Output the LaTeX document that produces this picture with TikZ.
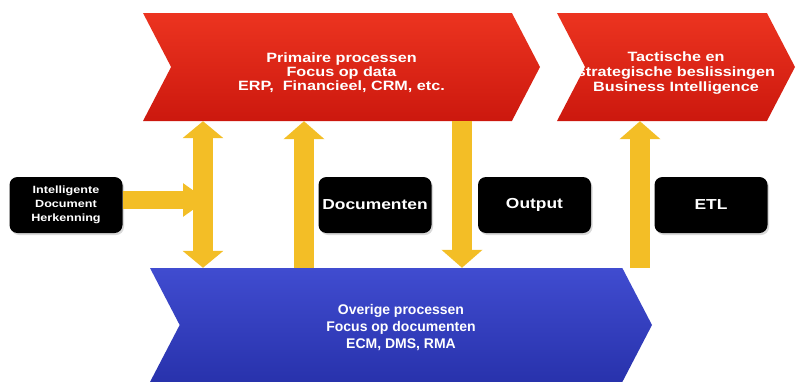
\documentclass[tikz,border=0pt]{standalone}
\usepackage{fontspec}
\usepackage{xcolor}
\usetikzlibrary{shapes.symbols,arrows.meta,shadows}
\newfontfamily\diagfont[FakeStretch=1.2]{Liberation Sans Bold}
\newfontfamily\restfont{Liberation Sans Bold}
\definecolor{redtop}{RGB}{236,52,32}
\definecolor{redbot}{RGB}{204,24,14}
\definecolor{bluetop}{RGB}{64,76,208}
\definecolor{bluebot}{RGB}{40,50,172}
\definecolor{pijl}{RGB}{243,190,38}

\begin{document}
\begin{tikzpicture}[
    x=1pt, y=-1pt,
    chevron/.style={signal, signal from=west, signal to=east,
        signal pointer angle=125, inner sep=0pt},
    chevtekst/.style={text=white, align=center, inner sep=0pt},
    blok/.style={fill=black, rounded corners=8pt, text=white, align=center,
        minimum width=113pt, minimum height=56pt, inner sep=0pt,
        drop shadow={opacity=0.3, shadow xshift=1.5pt, shadow yshift=-2pt}},
    pijlop/.style={draw=pijl, line width=20pt,
        -{Triangle[width=40pt,length=18pt]}},
    pijldubbel/.style={draw=pijl, line width=20pt,
        {Triangle[width=40pt,length=17pt]}-{Triangle[width=40pt,length=17pt]}},
    pijlin/.style={draw=pijl, line width=18pt,
        -{Triangle[width=32pt,length=24pt]}}
]
\useasboundingbox (0,0) rectangle (796,381);

% processen
\node[chevron, top color=redtop, bottom color=redbot,
    minimum width=397pt, minimum height=108pt] (prim) at (341.5,67) {};
\node[chevron, top color=redtop, bottom color=redbot,
    minimum width=238pt, minimum height=108pt] (strat) at (676,67) {};
\node[chevron, top color=bluetop, bottom color=bluebot,
    minimum width=502pt, minimum height=114pt] (rest) at (401,325) {};
\node[chevtekst, font=\diagfont\fontsize{13.5}{14}\selectfont] (primtekst)
    at ([yshift=-6pt]prim.center)
    {Primaire processen\\Focus op data\\ERP,~ Financieel, CRM, etc.};
\node[chevtekst, font=\diagfont\fontsize{13.5}{15}\selectfont] (strattekst)
    at ([yshift=-6pt]strat.center)
    {Tactische en\\strategische beslissingen\\Business Intelligence};
\node[chevtekst, font=\restfont\fontsize{14}{17}\selectfont] (resttekst)
    at ([yshift=-3pt]rest.center)
    {Overige processen\\Focus op documenten\\ECM, DMS, RMA};

% blokken
\node[blok, font=\diagfont\fontsize{10.5}{14}\selectfont] (idh) at (66,205)
    {Intelligente\\Document\\Herkenning};
\node[blok, font=\diagfont\fontsize{14.5}{16}\selectfont] (doc) at (375,205) {Documenten};
\node[blok, font=\diagfont\fontsize{14.5}{16}\selectfont] (out) at (534.5,205) {Output\vphantom{g}};
\node[blok, font=\diagfont\fontsize{14.5}{16}\selectfont] (etl) at (711,205) {ETL};

% pijlen
\coordinate (x1) at (203,0);
\coordinate (x2) at (304,0);
\coordinate (x3) at (462,0);
\coordinate (x4) at (640,0);
\draw[pijldubbel] (x1 |- prim.south) -- (x1 |- rest.north);
\draw[pijlop] (x2 |- rest.north) -- (x2 |- prim.south);
\draw[pijlop] (x3 |- prim.south) -- (x3 |- rest.north);
\draw[pijlop] (x4 |- rest.north) -- (x4 |- strat.south);
\draw[pijlin] ([yshift=5pt]idh.east) -- ([xshift=4pt,yshift=5pt]x1 |- idh.east);
\end{tikzpicture}
\end{document}
